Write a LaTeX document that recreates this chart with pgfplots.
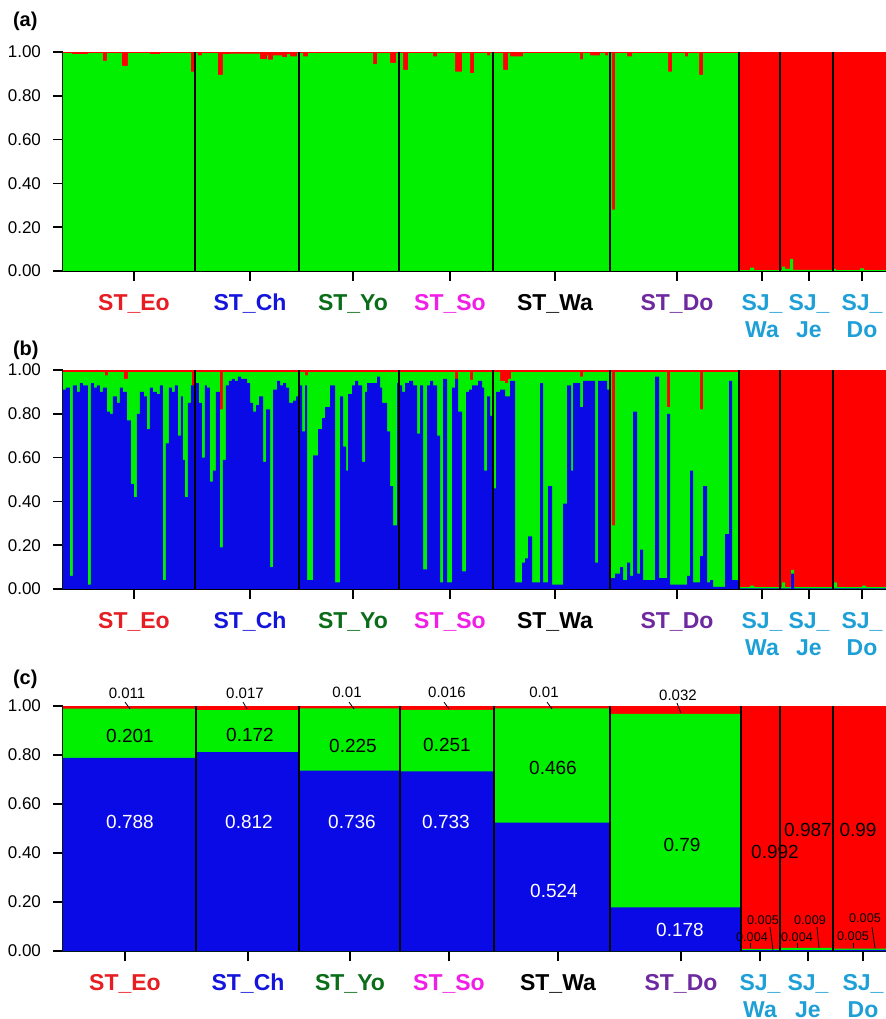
\documentclass[border=0pt]{standalone}
\usepackage{fontspec}
\setmainfont{Liberation Sans}
\usepackage{pgfplots}
\pgfplotsset{compat=1.18}
\definecolor{cR}{RGB}{255,0,0}
\definecolor{cG}{RGB}{0,240,0}
\definecolor{cB}{RGB}{10,10,230}
\definecolor{lEo}{RGB}{230,30,35}
\definecolor{lCh}{RGB}{20,20,220}
\definecolor{lYo}{RGB}{10,110,25}
\definecolor{lSo}{RGB}{240,30,230}
\definecolor{lDo}{RGB}{110,40,160}
\definecolor{lSJ}{RGB}{30,160,215}
\pgfplotsset{
 panel/.style={
  scale only axis, width=411.5pt, xmin=63, xmax=886, ymin=0, ymax=1,
  anchor=south west, clip=false,
  axis lines=left, axis line style={-, line width=0.8pt},
  tick align=outside, major tick length=5pt, tick style={line width=0.8pt, black},
  ytick={0,0.2,0.4,0.6,0.8,1},
  yticklabels={0.00,0.20,0.40,0.60,0.80,1.00},
  yticklabel style={font=\fontsize{8.5}{10}\selectfont, xshift=-2.5pt},
  xtick={134,250,353,450,555,677,762,809,862},
  xticklabels={\color{lEo}ST\_Eo,\color{lCh}ST\_Ch,\color{lYo}ST\_Yo,\color{lSo}ST\_So,\color{black}ST\_Wa,\color{lDo}ST\_Do,\color{lSJ}SJ\_\\\color{lSJ}Wa,\color{lSJ}SJ\_\\\color{lSJ}Je,\color{lSJ}SJ\_\\\color{lSJ}Do},
  xticklabel style={font=\bfseries\fontsize{11.5}{13.5}\selectfont, align=center, yshift=-3pt},
 }}
\begin{document}
\begin{tikzpicture}
\useasboundingbox (0,0) rectangle (443pt,509.5pt);
\node[anchor=west, font=\bfseries\fontsize{10}{12}\selectfont] at (3pt,499pt) {(a)};
\node[anchor=west, font=\bfseries\fontsize{10}{12}\selectfont] at (3pt,334.5pt) {(b)};
\node[anchor=west, font=\bfseries\fontsize{10}{12}\selectfont] at (3pt,170pt) {(c)};
% ---------------- panel (a)
\begin{axis}[panel, height=109.5pt, at={(31.5pt,374pt)}]
\addplot[fill=cR, draw=none] coordinates {(63,1) (886,1)} \closedcycle;
\addplot[const plot, fill=cG, draw=none] coordinates {(63,0.995) (72,0.99) (88,0.995) (103,0.96) (107,0.995) (122,0.937) (128,0.995) (150,0.99) (160,0.995) (191,0.91) (195,0.995) (198,0.985) (202,0.995) (218,0.895) (223,0.99) (230,0.993) (260,0.968) (267,0.985) (268,0.965) (273,0.985) (282,0.977) (287,0.99) (290,0.98) (297,0.995) (303,0.98) (308,0.995) (373,0.945) (377,0.995) (390,0.95) (396,0.995) (403,0.918) (408,0.995) (433,0.98) (437,0.995) (455,0.91) (462,0.995) (470,0.903) (474,0.995) (487,0.985) (490,0.995) (503,0.918) (508,0.995) (510,0.98) (523,0.995) (580,0.966) (583,0.995) (590,0.985) (600,0.995) (605,0.985) (608,0.995) (612,0.28) (615,0.995) (627,0.98) (632,0.995) (668,0.91) (672,0.995) (685,0.98) (688,0.995) (699,0.895) (703,0.995) (739,0.004) (750,0.015) (754,0.004) (782,0.02) (785,0.01) (790,0.055) (793,0.005) (833,0.01) (836,0.004) (860,0.012) (864,0.004) (886,0.004)} \closedcycle;
\addplot[ycomb, black, line width=0.8pt, mark=none] coordinates {(195,1) (299,1) (399,1) (493,1) (610,1) (739,1) (780,1) (833,1)};
\end{axis}
% ---------------- panel (b)
\begin{axis}[panel, height=109.5pt, at={(31.5pt,215pt)}]
\addplot[fill=cR, draw=none] coordinates {(63,1) (886,1)} \closedcycle;
\addplot[const plot, fill=cG, draw=none] coordinates {(63,0.99) (105,0.975) (108,0.99) (124,0.96) (128,0.99) (192,0.92) (195,0.99) (220,0.82) (223,0.99) (305,0.975) (308,0.99) (455,0.96) (458,0.99) (470,0.955) (473,0.99) (500,0.95) (505,0.94) (508,0.96) (511,0.99) (580,0.97) (583,0.99) (612,0.29) (615,0.99) (667,0.83) (670,0.99) (700,0.82) (703,0.99) (739,0.008) (750,0.015) (754,0.008) (782,0.03) (785,0.008) (791,0.087) (794,0.008) (834,0.03) (837,0.008) (862,0.015) (866,0.008) (886,0.008)} \closedcycle;
\addplot[const plot, fill=cB, draw=none] coordinates {
(63,0.91) (66,0.92) (70,0.06) (73,0.93) (77,0.90) (80,0.94) (83,0.93) (88,0.02) (91,0.94) (94,0.92) (97,0.93) (100,0.90) (103,0.92) (107,0.81) (110,0.80) (113,0.88) (117,0.85) (120,0.92) (123,0.90) (127,0.77) (131,0.48) (134,0.42) (137,0.80) (140,0.90) (144,0.88) (147,0.73) (150,0.92) (153,0.90) (157,0.89) (160,0.93) (163,0.04) (166,0.665) (169,0.92) (172,0.90) (175,0.93) (178,0.70) (181,0.88) (183,0.59) (185,0.42) (188,0.85) (191,0.93)
(195,0.94) (199,0.85) (202,0.60) (205,0.93) (207,0.92) (210,0.49) (213,0.54) (216,0.90) (220,0.19) (223,0.59) (226,0.93) (229,0.95) (232,0.96) (235,0.95) (238,0.97) (241,0.96) (244,0.96) (247,0.94) (250,0.85) (253,0.81) (256,0.84) (259,0.88) (263,0.58) (266,0.82) (270,0.10) (273,0.91) (277,0.95) (280,0.93) (283,0.94) (286,0.92) (289,0.85) (293,0.86) (296,0.88)
(299,0.93) (302,0.72) (305,0.93) (307,0.04) (313,0.61) (318,0.73) (322,0.78) (325,0.83) (330,0.93) (335,0.03) (340,0.88) (343,0.65) (346,0.54) (348,0.89) (352,0.93) (355,0.95) (358,0.93) (362,0.58) (365,0.90) (367,0.94) (372,0.94) (377,0.97) (380,0.92) (382,0.85) (387,0.72) (390,0.47) (393,0.29) (397,0.94)
(399,0.93) (402,0.90) (405,0.94) (409,0.95) (413,0.93) (417,0.71) (420,0.93) (423,0.09) (427,0.93) (430,0.95) (433,0.93) (437,0.70) (440,0.03) (443,0.96) (447,0.03) (452,0.92) (455,0.96) (458,0.81) (462,0.08) (466,0.90) (469,0.91) (472,0.93) (478,0.95) (482,0.92) (484,0.54) (487,0.88) (490,0.79)
(493,0.46) (496,0.90) (500,0.91) (505,0.88) (510,0.95) (515,0.03) (522,0.12) (525,0.14) (528,0.24) (532,0.03) (540,0.94) (543,0.03) (548,0.47) (552,0.02) (563,0.39) (567,0.93) (571,0.54) (573,0.94) (580,0.83) (583,0.95) (595,0.12) (598,0.95) (607,0.91)
(610,0.05) (615,0.07) (620,0.10) (623,0.04) (627,0.12) (630,0.06) (633,0.81) (637,0.07) (640,0.18) (643,0.04) (655,0.97) (659,0.05) (667,0.80) (670,0.02) (687,0.06) (690,0.54) (693,0.03) (700,0.15) (703,0.47) (707,0.03) (710,0.04) (713,0.01) (725,0.25) (729,0.95) (732,0.04)
(739,0.003) (791,0.07) (794,0.003) (886,0.003)} \closedcycle;
\addplot[ycomb, black, line width=0.8pt, mark=none] coordinates {(195,1) (299,1) (399,1) (493,1) (610,1) (739,1) (780,1) (833,1)};
\end{axis}
% ---------------- panel (c)
\begin{axis}[panel, height=122.5pt, at={(31.5pt,34pt)}, xtick={125,248,350,449,558,681,760,808,863}]
\addplot[fill=cR, draw=none] coordinates {(63,1) (886,1)} \closedcycle;
\addplot[const plot, fill=cG, draw=none] coordinates {(63,0.989) (196,0.983) (299,0.99) (400,0.984) (494,0.99) (610,0.968) (741,0.009) (780,0.013) (833,0.010) (886,0.010)} \closedcycle;
\addplot[const plot, fill=cB, draw=none] coordinates {(63,0.788) (196,0.812) (299,0.736) (400,0.733) (494,0.524) (610,0.178) (741,0.004) (780,0.004) (833,0.005) (886,0.005)} \closedcycle;
\addplot[ycomb, black, line width=0.8pt, mark=none] coordinates {(196,1) (299,1) (400,1) (494,1) (610,1) (741,1) (780,1) (833,1)};
\begin{scope}[font=\fontsize{7.5}{9}\selectfont]
\node at (axis cs:127,1.053) {0.011};
\node at (axis cs:245,1.053) {0.017};
\node at (axis cs:347,1.057) {0.01};
\node at (axis cs:447,1.057) {0.016};
\node at (axis cs:544,1.057) {0.01};
\node at (axis cs:678,1.045) {0.032};
\end{scope}
\draw[line width=0.4pt] (axis cs:125,1.016) -- (axis cs:130,0.988);
\draw[line width=0.4pt] (axis cs:243,1.016) -- (axis cs:247,0.988);
\draw[line width=0.4pt] (axis cs:349,1.016) -- (axis cs:354,0.988);
\draw[line width=0.4pt] (axis cs:444,1.016) -- (axis cs:449,0.988);
\draw[line width=0.4pt] (axis cs:547,1.016) -- (axis cs:552,0.988);
\draw[line width=0.4pt] (axis cs:677,1.012) -- (axis cs:681,0.971);
\begin{scope}[font=\fontsize{9.5}{11}\selectfont]
\node at (axis cs:130,0.878) {0.201};
\node at (axis cs:250,0.882) {0.172};
\node at (axis cs:353,0.837) {0.225};
\node at (axis cs:447,0.841) {0.251};
\node at (axis cs:553,0.747) {0.466};
\node at (axis cs:682,0.433) {0.79};
\node[white] at (axis cs:130,0.527) {0.788};
\node[white] at (axis cs:249,0.527) {0.812};
\node[white] at (axis cs:352,0.527) {0.736};
\node[white] at (axis cs:446,0.527) {0.733};
\node[white] at (axis cs:554,0.245) {0.524};
\node[white] at (axis cs:680,0.086) {0.178};
\node at (axis cs:775,0.404) {0.992};
\node at (axis cs:808,0.494) {0.987};
\node at (axis cs:858,0.494) {0.99};
\end{scope}
\begin{scope}[font=\fontsize{6.3}{7.5}\selectfont]
\node at (axis cs:763,0.127) {0.005};
\node at (axis cs:752,0.057) {0.004};
\node at (axis cs:810,0.127) {0.009};
\node at (axis cs:797,0.057) {0.004};
\node at (axis cs:865,0.135) {0.005};
\node at (axis cs:853,0.061) {0.005};
\end{scope}
\draw[line width=0.4pt] (axis cs:770,0.098) -- (axis cs:773,0.004);
\draw[line width=0.4pt] (axis cs:750,0.033) -- (axis cs:750,0.012);
\draw[line width=0.4pt] (axis cs:817,0.098) -- (axis cs:819,0.012);
\draw[line width=0.4pt] (axis cs:797,0.033) -- (axis cs:797,0.012);
\draw[line width=0.4pt] (axis cs:872,0.098) -- (axis cs:875,0.012);
\draw[line width=0.4pt] (axis cs:853,0.033) -- (axis cs:853,0.012);
\end{axis}
\end{tikzpicture}
\end{document}
